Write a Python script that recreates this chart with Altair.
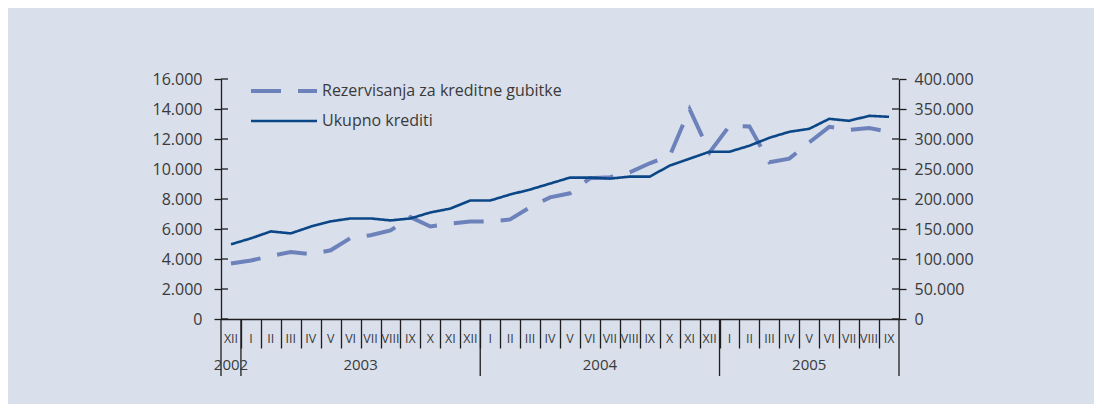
import altair as alt
import pandas as pd

# ---------------- data ----------------
months = ['XII', 'I', 'II', 'III', 'IV', 'V', 'VI', 'VII', 'VIII', 'IX', 'X', 'XI', 'XII',
          'I', 'II', 'III', 'IV', 'V', 'VI', 'VII', 'VIII', 'IX', 'X', 'XI', 'XII',
          'I', 'II', 'III', 'IV', 'V', 'VI', 'VII', 'VIII', 'IX']
years = ['2002', '2003', '2004', '2005']
months_per_year = [1, 12, 12, 9]

series_names = ['Rezervisanja za kreditne gubitke', 'Ukupno krediti']

rezervisanja = [3700, 3900, 4200, 4470, 4320, 4580, 5400, 5580, 5900, 6790, 6170, 6350,
                6500, 6500, 6640, 7450, 8110, 8380, 9380, 9450, 9780, 10380, 10870,
                13990, 11110, 12880, 12840, 10450, 10690, 11770, 12810, 12610, 12730, 12480]
ukupno = [124500, 134400, 146000, 142700, 154000, 162700, 167600, 167600, 164300, 167600,
          177600, 184000, 197500, 197500, 207500, 215800, 225700, 235700, 235700, 234000,
          237300, 237300, 255600, 267200, 278800, 278800, 288800, 302000, 312000, 317000,
          333600, 330300, 338600, 337000]

left_ticks = [0, 2000, 4000, 6000, 8000, 10000, 12000, 14000, 16000]
right_ticks = [0, 50000, 100000, 150000, 200000, 250000, 300000, 350000, 400000]

# ---------------- tables ----------------
n = len(months)
pos = [i + 0.5 for i in range(n)]
long_df = pd.DataFrame(
    [{'pos': p, 'series': series_names[0], 'value': v} for p, v in zip(pos, rezervisanja)]
    + [{'pos': p, 'series': series_names[1], 'value': v} for p, v in zip(pos, ukupno)]
)
month_df = pd.DataFrame({'pos': pos, 'month': months})
legend_df = pd.DataFrame({'series': series_names})

starts = []
acc = 0
for m in months_per_year:
    starts.append(acc)
    acc += m
year_df = pd.DataFrame({'pos': [s + m / 2 for s, m in zip(starts, months_per_year)], 'year': years})
year_bounds = pd.DataFrame({'pos': starts + [acc]})
month_bounds = list(range(1, n))

W, H = 678, 240
INK = '#1e1e1e'
TXT = '#3a3a3a'
FONT = 'Open Sans'
C_DASH = '#6d82ba'
C_SOLID = '#0b4787'

X = alt.X('pos:Q',
          scale=alt.Scale(domain=[0, n], nice=False, zero=False),
          axis=alt.Axis(values=month_bounds, tickSize=29, labels=False, title=None,
                        grid=False, domainColor=INK, tickColor=INK,
                        domainWidth=1.3, tickWidth=1.3))

color = alt.Color('series:N', scale=alt.Scale(domain=series_names, range=[C_DASH, C_SOLID]),
                  legend=None)
dash = alt.StrokeDash('series:N', scale=alt.Scale(domain=series_names, range=[[30, 17], [1, 0]]),
                      legend=None)

axis_common = dict(title=None, grid=False, tickSize=7, domainColor=INK, tickColor=INK,
                   domainWidth=1.3, tickWidth=1.3, labelFont=FONT, labelFontSize=16,
                   labelColor=TXT,
                   labelExpr="replace(format(datum.value, ',d'), ',', '.')")

line_left = alt.Chart(long_df).transform_filter(
    alt.datum.series == series_names[0]
).mark_line(strokeWidth=4).encode(
    x=X,
    y=alt.Y('value:Q', scale=alt.Scale(domain=[0, 16000], nice=False),
            axis=alt.Axis(values=left_ticks, orient='left', labelPadding=12, **axis_common)),
    color=color, strokeDash=dash,
)

line_right = alt.Chart(long_df).transform_filter(
    alt.datum.series == series_names[1]
).mark_line(strokeWidth=2.6).encode(
    x=X,
    y=alt.Y('value:Q', scale=alt.Scale(domain=[0, 400000], nice=False),
            axis=alt.Axis(values=right_ticks, orient='right', labelPadding=8, **axis_common)),
    color=color, strokeDash=dash,
)

inner_left = alt.Chart(pd.DataFrame({'v': left_ticks})).mark_rule(
    color=INK, strokeWidth=1.3).encode(
    y=alt.Y('v:Q', scale=alt.Scale(domain=[0, 16000], nice=False), axis=None),
    x=alt.value(0), x2=alt.value(7))

inner_right = alt.Chart(pd.DataFrame({'v': right_ticks})).mark_rule(
    color=INK, strokeWidth=1.3).encode(
    y=alt.Y('v:Q', scale=alt.Scale(domain=[0, 400000], nice=False), axis=None),
    x=alt.value(W - 7), x2=alt.value(W))

year_rules = alt.Chart(year_bounds).mark_rule(color=INK, strokeWidth=1.3).encode(
    x=X, y=alt.value(H), y2=alt.value(H + 57))

month_text = alt.Chart(month_df).mark_text(
    font=FONT, fontSize=12.5, color=TXT, baseline='middle', align='center').encode(
    x=X, y=alt.value(H + 20), text='month:N')

year_text = alt.Chart(year_df).mark_text(
    font=FONT, fontSize=15, color=TXT, baseline='middle', align='center').encode(
    x=X, y=alt.value(H + 46), text='year:N')

# manual legend
legend_layers = []
for k, (sw, yy) in enumerate([(4, 12), (2.6, 42)]):
    ld = alt.Chart(legend_df).transform_filter(alt.datum.series == series_names[k])
    legend_layers.append(
        ld.mark_rule(strokeWidth=sw).encode(
            x=alt.value(30), x2=alt.value(96), y=alt.value(yy),
            color=color, strokeDash=dash))
    legend_layers.append(
        ld.mark_text(font=FONT, fontSize=16, color=TXT, align='left', baseline='middle').encode(
            x=alt.value(101), y=alt.value(yy), text='series:N'))

chart = alt.layer(
    line_left, line_right, inner_left, inner_right, year_rules, month_text, year_text,
    *legend_layers
).resolve_scale(y='independent').properties(
    width=W, height=H,
    padding={'left': 213, 'top': 71, 'right': 195, 'bottom': 85},
    autosize=alt.AutoSizeParams(type='none'),
).configure(
    background='#d9dfeb'
).configure_view(
    stroke='transparent'
)

chart.save('out.html', embed_options={'renderer': 'svg', 'actions': False})
